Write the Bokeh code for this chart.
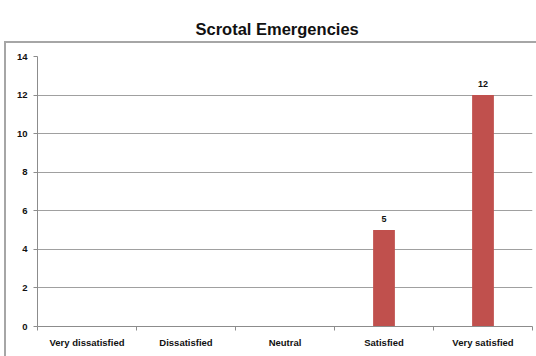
from bokeh.plotting import figure
from bokeh.models import Range1d, FixedTicker, LinearAxis, ColumnDataSource, InlineStyleSheet
from bokeh.core.properties import value
from bokeh.embed import file_html
from bokeh.resources import INLINE

categories = ["Very dissatisfied", "Dissatisfied", "Neutral", "Satisfied", "Very satisfied"]
counts = [0, 0, 0, 5, 12]
y_ticks = [0, 2, 4, 6, 8, 10, 12, 14]

xs = [i + 0.5 for i in range(len(categories))]
src = ColumnDataSource(dict(x=xs, top=counts))
lab_x = [x for x, c in zip(xs, counts) if c > 0]
lab_y = [c for c in counts if c > 0]
lab_src = ColumnDataSource(dict(x=lab_x, y=lab_y, lab=[str(c) for c in lab_y]))

p = figure(width=536, height=356, output_backend="svg", toolbar_location=None,
           x_range=Range1d(0, len(categories)), y_range=Range1d(0, 14),
           min_border_left=37, min_border_right=4, min_border_top=56, min_border_bottom=30)
p.outline_line_color = None
p.background_fill_color = "white"
p.border_fill_color = "white"
p.stylesheets = [InlineStyleSheet(css=""":host { position: relative; }
:host::after { content: ""; position: absolute; left: 4px; top: 41px; width: 540px; height: 330px;
  border: 2px solid #A6A6A6; pointer-events: none; box-sizing: border-box; }""")]

p.title.text = "Scrotal Emergencies"
p.title.text_font = "Liberation Sans"
p.title.text_font_size = "16.5px"
p.title.text_font_style = "bold"
p.title.align = "left"
p.title.offset = 158
p.title.vertical_align = "top"
p.title.text_color = "#111111"
p.title.standoff = 34

xa = p.below[0]
ya = p.left[0]

p.vbar(x="x", top="top", width=0.22, bottom=0, source=src, fill_color="#C0504D", line_color=None)
p.text(x="x", y="y", text="lab", source=lab_src, text_align="center", text_baseline="bottom",
       y_offset=-8, text_font=value("Liberation Sans"), text_font_size="9px",
       text_font_style="bold", text_color="#111111")

# y axis
ya.ticker = FixedTicker(ticks=y_ticks)
ya.axis_line_color = "#8C8C8C"
ya.major_tick_line_color = "#8C8C8C"
ya.major_tick_out = 4
ya.major_tick_in = 0
ya.minor_tick_line_color = None
ya.major_label_text_font = "Liberation Sans"
ya.major_label_text_font_size = "9.5px"
ya.major_label_text_font_style = "bold"
ya.major_label_text_color = "#111111"
ya.major_label_standoff = 6

# x axis: ticks at category boundaries, no labels
xa.ticker = FixedTicker(ticks=list(range(len(categories) + 1)))
xa.major_label_overrides = {i: "" for i in range(len(categories) + 1)}
xa.axis_line_color = "#8C8C8C"
xa.major_tick_line_color = "#8C8C8C"
xa.major_tick_out = 4
xa.major_tick_in = 0
xa.minor_tick_line_color = None

# category label axis
xl = LinearAxis(ticker=FixedTicker(ticks=xs),
                major_label_overrides={x: c for x, c in zip(xs, categories)})
xl.axis_line_color = None
xl.major_tick_line_color = None
xl.minor_tick_line_color = None
xl.major_label_text_font = "Liberation Sans"
xl.major_label_text_font_size = "9.5px"
xl.major_label_text_font_style = "bold"
xl.major_label_text_color = "#111111"
xl.major_label_standoff = 0
p.add_layout(xl, "below")

p.xgrid.grid_line_color = None
p.ygrid.ticker = FixedTicker(ticks=y_ticks)
p.ygrid.grid_line_color = "#A0A0A0"
p.ygrid.grid_line_width = 1

open("out.html", "w").write(file_html(p, INLINE))
